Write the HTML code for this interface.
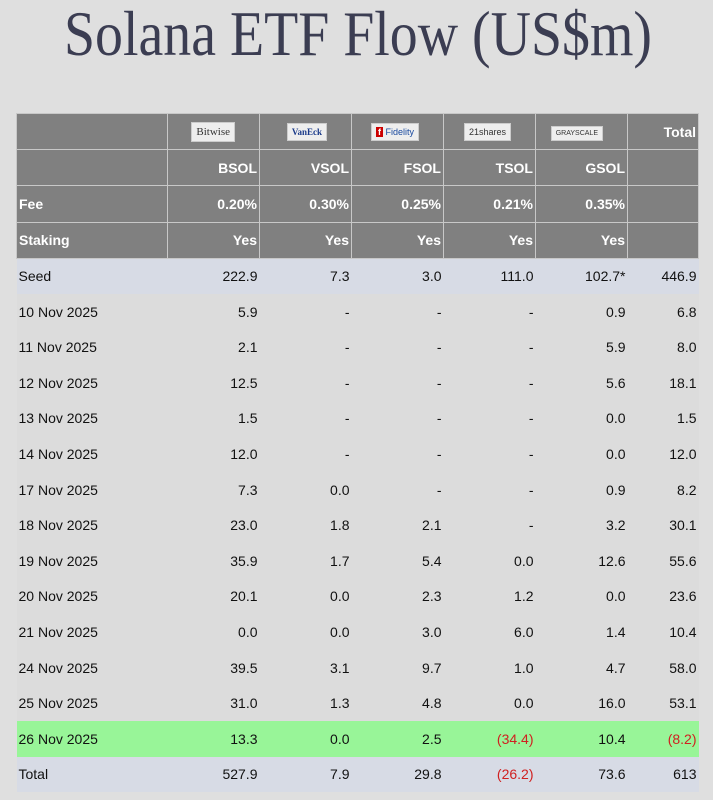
<!DOCTYPE html>
<html><head><meta charset="utf-8"><style>
body{margin:0;width:713px;height:800px;background:#dfdfdf;overflow:hidden;font-family:"Liberation Sans",Arial,sans-serif;}
svg.t{position:absolute;left:0;top:0}
table{position:absolute;left:16px;top:113px;border-collapse:collapse;table-layout:fixed;font-size:14px;color:#111}
td{padding:0 2px;text-align:right;height:35.6px;box-sizing:border-box;white-space:nowrap;overflow:hidden}
td:first-child{text-align:left;padding-left:2px}
tr.h td{background:#808080;color:#fff;font-weight:bold;border:1px solid #c8c8c8;height:36.2px}
tr.d td{background:#dcdcdc}
tr.s td{background:#d7dbe5}
tr.g td{background:#98f598}
.r{color:#d02020}
.logo{display:inline-block;background:#eee;font-size:9px;font-weight:normal;color:#333;padding:3px 4px;margin-right:22px;border:1px solid #ccc}
</style></head><body>
<svg class="t" width="713" height="80"><text x="64" y="55" textLength="588" lengthAdjust="spacingAndGlyphs" font-family="Liberation Serif" font-size="64" fill="#3b3d52">Solana ETF Flow (US$m)</text></svg>
<table>
<colgroup><col style="width:151px"><col style="width:92px"><col style="width:92px"><col style="width:92px"><col style="width:92px"><col style="width:92px"><col style="width:71px"></colgroup>
<tr class="h"><td></td><td><span class="logo" style="font-family:'Liberation Serif';font-size:11px">Bitwise</span></td><td><span class="logo" style="color:#1a3a8a;font-family:'Liberation Serif';font-weight:bold">VanEck</span></td><td><span class="logo"><b style="background:#c00;color:#fff;padding:0 2px">f</b> <span style="color:#1a4aa0">Fidelity</span></span></td><td><span class="logo">21shares</span></td><td><span class="logo" style="font-size:7px">GRAYSCALE</span></td><td>Total</td></tr>
<tr class="h"><td></td><td>BSOL</td><td>VSOL</td><td>FSOL</td><td>TSOL</td><td>GSOL</td><td></td></tr>
<tr class="h"><td>Fee</td><td>0.20%</td><td>0.30%</td><td>0.25%</td><td>0.21%</td><td>0.35%</td><td></td></tr>
<tr class="h"><td>Staking</td><td>Yes</td><td>Yes</td><td>Yes</td><td>Yes</td><td>Yes</td><td></td></tr>
<tr class="s"><td>Seed</td><td>222.9</td><td>7.3</td><td>3.0</td><td>111.0</td><td>102.7*</td><td>446.9</td></tr>
<tr class="d"><td>10 Nov 2025</td><td>5.9</td><td>-</td><td>-</td><td>-</td><td>0.9</td><td>6.8</td></tr>
<tr class="d"><td>11 Nov 2025</td><td>2.1</td><td>-</td><td>-</td><td>-</td><td>5.9</td><td>8.0</td></tr>
<tr class="d"><td>12 Nov 2025</td><td>12.5</td><td>-</td><td>-</td><td>-</td><td>5.6</td><td>18.1</td></tr>
<tr class="d"><td>13 Nov 2025</td><td>1.5</td><td>-</td><td>-</td><td>-</td><td>0.0</td><td>1.5</td></tr>
<tr class="d"><td>14 Nov 2025</td><td>12.0</td><td>-</td><td>-</td><td>-</td><td>0.0</td><td>12.0</td></tr>
<tr class="d"><td>17 Nov 2025</td><td>7.3</td><td>0.0</td><td>-</td><td>-</td><td>0.9</td><td>8.2</td></tr>
<tr class="d"><td>18 Nov 2025</td><td>23.0</td><td>1.8</td><td>2.1</td><td>-</td><td>3.2</td><td>30.1</td></tr>
<tr class="d"><td>19 Nov 2025</td><td>35.9</td><td>1.7</td><td>5.4</td><td>0.0</td><td>12.6</td><td>55.6</td></tr>
<tr class="d"><td>20 Nov 2025</td><td>20.1</td><td>0.0</td><td>2.3</td><td>1.2</td><td>0.0</td><td>23.6</td></tr>
<tr class="d"><td>21 Nov 2025</td><td>0.0</td><td>0.0</td><td>3.0</td><td>6.0</td><td>1.4</td><td>10.4</td></tr>
<tr class="d"><td>24 Nov 2025</td><td>39.5</td><td>3.1</td><td>9.7</td><td>1.0</td><td>4.7</td><td>58.0</td></tr>
<tr class="d"><td>25 Nov 2025</td><td>31.0</td><td>1.3</td><td>4.8</td><td>0.0</td><td>16.0</td><td>53.1</td></tr>
<tr class="g"><td>26 Nov 2025</td><td>13.3</td><td>0.0</td><td>2.5</td><td class="r">(34.4)</td><td>10.4</td><td class="r">(8.2)</td></tr>
<tr class="s"><td>Total</td><td>527.9</td><td>7.9</td><td>29.8</td><td class="r">(26.2)</td><td>73.6</td><td>613</td></tr>
</table>
</body></html>
